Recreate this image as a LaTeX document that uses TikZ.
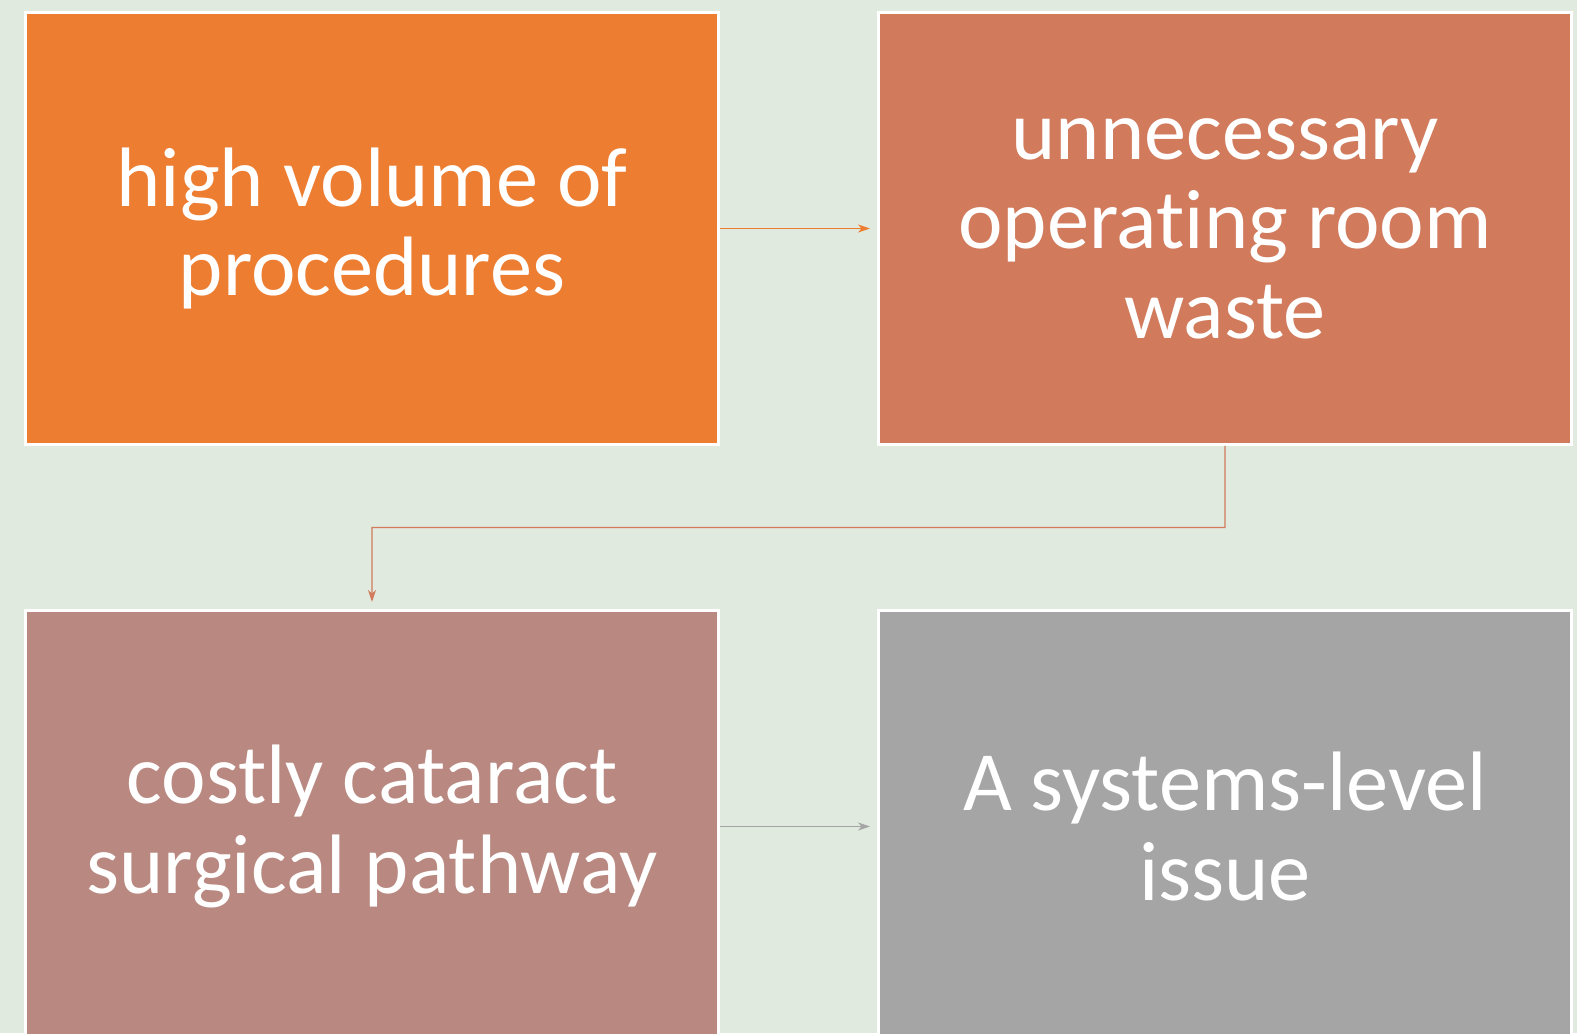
\documentclass[tikz,border=0pt]{standalone}
\usepackage{fontspec}
\setmainfont[Ligatures=NoCommon]{Carlito}
\usetikzlibrary{arrows.meta,calc,positioning}
\definecolor{bgGreen}{HTML}{E1EADF}
\definecolor{boxOrange}{HTML}{ED7D31}
\definecolor{boxRust}{HTML}{D17A5C}
\definecolor{boxMauve}{HTML}{B98981}
\definecolor{boxGray}{HTML}{A5A5A5}

\begin{document}
\begin{tikzpicture}[node distance=3.26cm and 3.14cm,
    box/.style={rectangle, draw=white, line width=1.7pt, inner sep=0pt,
      minimum width=13.86cm, minimum height=8.64cm, text=white, align=center,
      font=\fontsize{48}{51}\selectfont},
    link/.style={line width=0.75pt, shorten >=4pt,
      -{Stealth[length=6.8pt,width=4.6pt,inset=2pt]}}]
           \useasboundingbox (-7.44,4.57) rectangle (24.1,-16.09);
           \fill[bgGreen] (-7.44,4.57) rectangle (24.1,-16.09);
           \clip (-7.44,4.57) rectangle (24.1,-16.09);
           \node[box, fill=boxOrange] (volume) {high volume of\\procedures};
           \node[box, fill=boxRust] (waste) [right=of volume] {unnecessary\\operating room\\waste};
           \node[box, fill=boxMauve] (pathway) [below=of volume] {costly cataract\\surgical pathway};
           \node[box, fill=boxGray] (issue) [right=of pathway] {A systems-level\\issue};
           \path[link]
            (volume) edge[draw=boxOrange] (waste)
            (pathway) edge[draw=boxGray] (issue);
           \draw[link, draw=boxRust] (waste.south)
            -- ($(waste.south)!.5!(waste.south |- pathway.north)$)
            -| (pathway.north);
        \end{tikzpicture}
\end{document}
